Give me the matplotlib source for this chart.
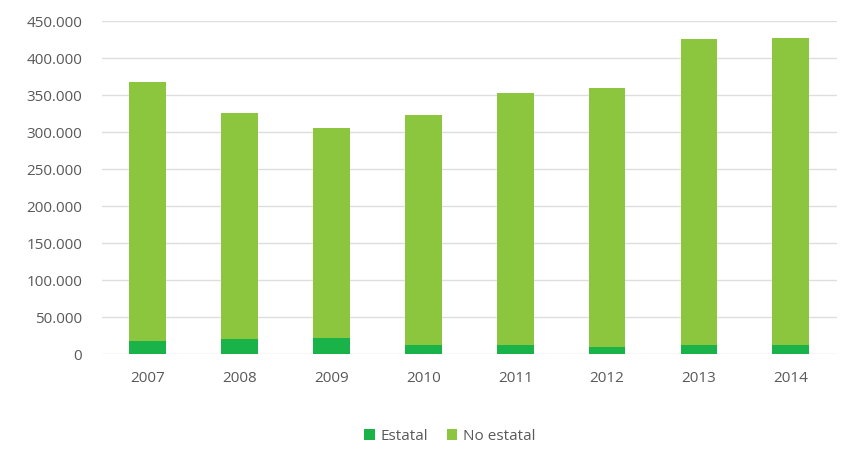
import numpy as np
import matplotlib.pyplot as plt
from matplotlib.ticker import FuncFormatter

# Data
years = ["2007", "2008", "2009", "2010", "2011", "2012", "2013", "2014"]
estatal = [17500, 20000, 22000, 12000, 12000, 9500, 12500, 12500]
no_estatal = [350000, 305500, 283500, 311000, 340500, 350000, 413000, 414500]

plt.rcParams['font.family'] = ['Open Sans', 'DejaVu Sans']

fig = plt.figure(figsize=(8.41, 4.5), dpi=100)
ax = fig.add_axes([0.121, 0.213, 0.874, 0.740])

x = np.arange(len(years))
ax.bar(x, estatal, width=0.40, color='#19b34a', label='Estatal', zorder=3)
ax.bar(x, no_estatal, width=0.40, bottom=estatal, color='#8cc63f',
       label='No estatal', zorder=3)

ax.set_ylim(0, 450000)
ax.set_xlim(-0.5, len(years) - 0.5)
ax.set_yticks(np.arange(0, 450001, 50000))
ax.yaxis.set_major_formatter(FuncFormatter(lambda v, p: f"{int(v):,}".replace(",", ".")))
ax.set_xticks(x)
ax.set_xticklabels(years)

ax.grid(axis='y', color='#dedede', linewidth=1, zorder=0)
for s in ax.spines.values():
    s.set_visible(False)
ax.tick_params(axis='both', length=0, colors='#595959', labelsize=11)
ax.tick_params(axis='x', pad=12)
ax.tick_params(axis='y', pad=14)

fig.legend(loc='center', bbox_to_anchor=(0.535, 0.03), ncol=2, frameon=False,
           fontsize=11, handlelength=0.7, handleheight=0.7, columnspacing=1.2,
           handletextpad=0.4, labelcolor='#595959')

fig.savefig('out.png', dpi=100, facecolor='white')
